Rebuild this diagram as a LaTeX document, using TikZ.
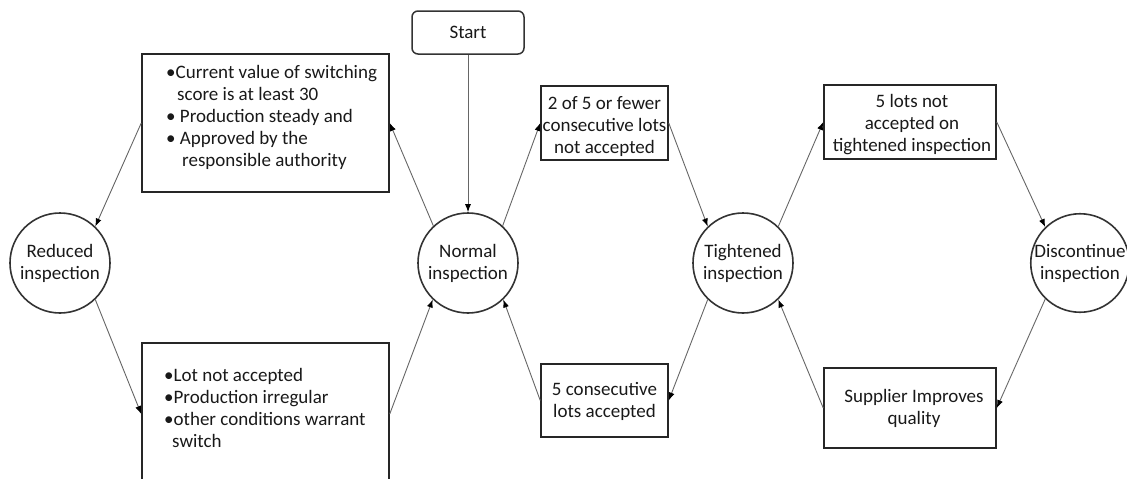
\documentclass[tikz,border=0pt]{standalone}
\usepackage{fontspec}
\setmainfont{Carlito}
\usetikzlibrary{arrows.meta}
\begin{document}
\begin{tikzpicture}[x=1pt,y=-1pt,
  every node/.style={font=\fontsize{19}{22}\selectfont, text=black!90},
  state/.style={circle, draw=black!80, line width=1.6pt, minimum size=100pt, inner sep=0pt, align=center},
  box/.style={rectangle, draw=black!85, line width=1.5pt, inner sep=0pt},
  startbox/.style={rectangle, rounded corners=6pt, draw=black!80, line width=1.5pt, inner sep=0pt, minimum width=112pt, minimum height=43pt},
  txt/.style={inner sep=0pt, align=left},
  ctxt/.style={inner sep=0pt, align=center},
  arr/.style={draw=black!60, line width=0.9pt, -{Latex[length=8pt,width=6pt,color=black]}}
]
\useasboundingbox (0,0) rectangle (1127,479);

% state circles
\node[state] (red) at (60,263) {Reduced\\inspection};
\node[state] (norm) at (468,263) {Normal\\inspection};
\node[state] (tight) at (743,263) {Tightened\\inspection};
\node[state, minimum size=97pt] (disc) at (1080,263) {Discontinue\\inspection};

% start
\node[startbox] (start) at (468,32.5) {Start};

% condition boxes
\node[box, minimum width=247pt, minimum height=138pt] (tl) at (265.5,123) {};
\node[txt, anchor=west] (tltext) at (166,117.5) {\textbullet Current value of switching\\
\hspace*{11pt}score is at least 30\\
\textbullet\ Production steady and\\
\textbullet\ Approved by the\\
\hspace*{16pt}responsible authority};

\node[box, minimum width=247pt, minimum height=142pt] (bl) at (265.5,414) {};
\node[txt, anchor=west] (bltext) at (164,408) {\textbullet Lot not accepted\\
\textbullet Production irregular\\
\textbullet other conditions warrant\\
\hspace*{8pt}switch};

\node[box, minimum width=127pt, minimum height=74pt] (b2) at (604.5,123) {};
\node[ctxt] (b2text) at (604.5,127) {2 of 5 or fewer\\consecutive lots\\not accepted};

\node[box, minimum width=127pt, minimum height=73pt] (b5c) at (604.5,400.5) {};
\node[ctxt] (b5ctext) at (604.5,401) {5 consecutive\\lots accepted};

\node[box, minimum width=172pt, minimum height=74pt] (b5l) at (910,122) {};
\node[ctxt] (b5ltext) at (912,125) {5 lots not\\accepted on\\tightened inspection};

\node[box, minimum width=172pt, minimum height=80pt] (sup) at (910,408) {};
\node[ctxt] (suptext) at (914,408) {Supplier Improves\\quality};

% connectors
\draw[arr] (start.south) -- (norm.north);
\draw[arr] (norm.133) -- (tl.east);
\draw[arr] (tl.west) -- (red.46);
\draw[arr] (red.-46) -- (bl.west);
\draw[arr] (bl.east) -- (norm.-134);
\draw[arr] (norm.47) -- (b2.west);
\draw[arr] (b2.east) -- (tight.134);
\draw[arr] (tight.-134) -- (b5c.east);
\draw[arr] (b5c.west) -- (norm.-46);
\draw[arr] (tight.46) -- (b5l.west);
\draw[arr] (b5l.east) -- (disc.134);
\draw[arr] (disc.-134) -- (sup.east);
\draw[arr] (sup.west) -- (tight.-46);
\end{tikzpicture}
\end{document}
